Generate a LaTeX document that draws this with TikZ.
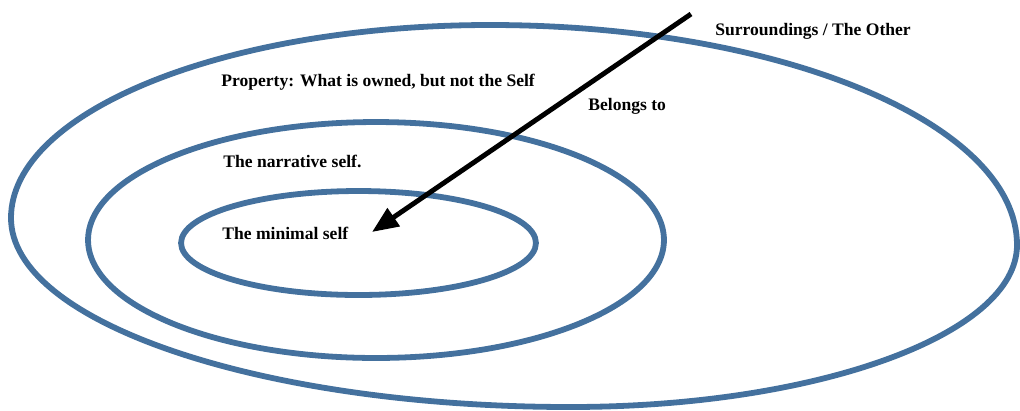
\documentclass[tikz,border=0pt]{standalone}
\usepackage{fontspec}
\setmainfont{Liberation Serif}
\usetikzlibrary{arrows.meta}

\definecolor{ringblue}{RGB}{68,113,158}

\begin{document}
\begin{tikzpicture}[
  x=0.02cm, y=-0.02cm,
  ring/.style={draw=ringblue,line width=3.3pt},
  ringlabel/.style={font=\fontsize{10}{12}\selectfont\bfseries,anchor=base west,inner sep=0pt},
  ownarrow/.style={-{Triangle[length=15pt,width=12pt]},line width=2.8pt,black},
]
\useasboundingbox (0,0) rectangle (1020,410);

% Centres of the inner regions
\coordinate (midc) at (376,240);
\coordinate (innerc) at (358.5,243);

% Outer region (slightly egg-shaped)
\draw[ring] (11,218) .. controls (11,111.4) and (225.5,25) .. (490,25)
  .. controls (781,25) and (1017,123.5) .. (1017,245)
  .. controls (1017,334.5) and (816.9,407) .. (570,407)
  .. controls (261.3,407) and (11,322.4) .. cycle;

% Nested regions
\draw[ring] (midc) ellipse [x radius=5.76cm, y radius=2.36cm];
\draw[ring] (innerc) ellipse [x radius=3.55cm, y radius=1.04cm];

% Labels
\node[ringlabel] (other) at (715,35) {Surroundings / The Other};
\node[ringlabel] (property) at (221,86) {Property: What is owned, but not the Self};
\node[ringlabel] (belongs) at (588,110) {Belongs to};
\node[ringlabel] (narrative) at (223,167) {The narrative self.};
\node[ringlabel] (minimal) at (222,239) {The minimal self};

% Belongs-to arrow
\coordinate (src) at (691,14);
\coordinate (tip) at (372,232);
\draw[ownarrow] (src) -- (tip);

\end{tikzpicture}
\end{document}
